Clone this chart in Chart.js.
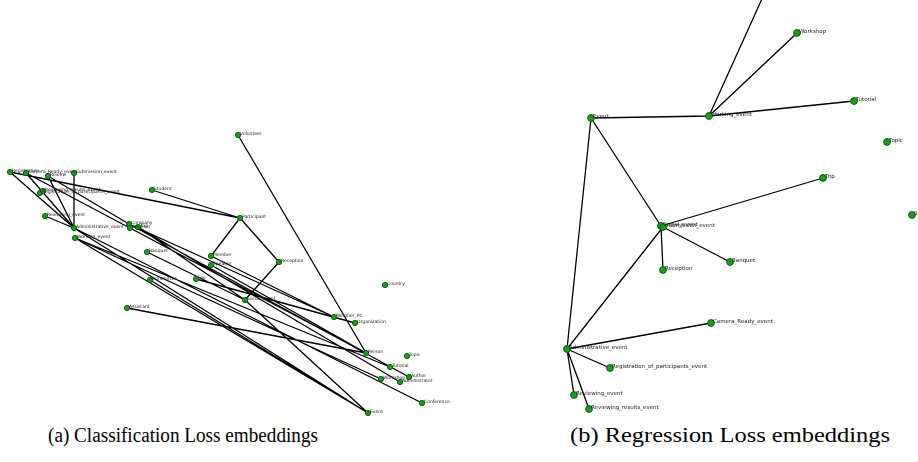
<!DOCTYPE html>
<html>
<head>
<meta charset="utf-8">
<script src="https://cdn.jsdelivr.net/npm/chart.js@4.4.1/dist/chart.umd.min.js"></script>
<style>
  html, body { margin: 0; padding: 0; background: #fff; width: 918px; height: 462px; overflow: hidden; }
  .panel { position: absolute; top: 0; width: 459px; height: 420px; }
  #wrapA { left: 0; }
  #wrapB { left: 459px; }
  .cap { position: absolute; top: 424px; font-family: "Liberation Serif", "DejaVu Serif", serif; font-size: 20px; color: #000; white-space: nowrap; transform-origin: 0 50%; }
</style>
</head>
<body>
<div class="panel" id="wrapA"><canvas id="chartA" width="459" height="420"></canvas></div>
<div class="panel" id="wrapB"><canvas id="chartB" width="459" height="420"></canvas></div>
<div class="cap" id="capA" style="left:48px">(a) Classification Loss embeddings</div>
<div class="cap" id="capB" style="left:570px">(b) Regression Loss embeddings</div>
<script>
// ---------- Panel (a): Classification Loss embeddings ----------
const nodesA = ["Registration","Camera_Ready_event","Review","Submission_event",
  "Registration_of_participants_event","Reviewing_results_event","Reviewing_event",
  "Administrative_event","Working_event","Student","Volunteer","Company","Sponsor","Trip",
  "Participant","Member","Speaker","Banquet","Committee","Fee","Social_event","Assistant",
  "Reception","Country","Member_PC","Organization","Person","Topic","Tutorial","Author",
  "Administrator","Workshop","Conference","Event"];
const xA = [10,26,48,74,40,43,45,74,75,152,238,129,130,138,240,211,211,147,150,196,245,127,279,385,334,355,366,407,390,409,400,381,422,368];
const yA = [172,173,176,173,193,191,216,228,238,190,135,224,228,227,218,256,265,252,280,279,300,308,262,285,317,323,353,356,367,377,382,379,403,413];
const edgesA = [
  ["Registration","Administrative_event"],["Camera_Ready_event","Administrative_event"],
  ["Review","Administrative_event"],["Submission_event","Administrative_event"],
  ["Reviewing_event","Administrative_event"],["Registration","Participant"],
  ["Review","Company"],["Student","Participant"],["Participant","Member"],
  ["Participant","Reception"],["Volunteer","Person"],["Reception","Social_event"],
  ["Working_event","Event"],["Working_event","Workshop"],["Working_event","Tutorial"],
  ["Administrative_event","Conference"],["Administrative_event","Event"],
  ["Social_event","Event"],["Trip","Social_event"],["Banquet","Social_event"],
  ["Member","Member_PC"],["Speaker","Person"],["Assistant","Person"],
  ["Company","Member_PC"],["Fee","Organization"],["Company","Author"],
  ["Trip","Administrator"],["Sponsor","Person"],["Committee","Event"],
  ["Camera_Ready_event","Person"]
];

// ---------- Panel (b): Regression Loss embeddings ----------
const nodesB = ["Event","Working_event","Workshop","Tutorial","Conference","Topic","Student",
  "Trip","Social_event","Submission_event","Reception","Banquet","Camera_Ready_event",
  "Administrative_event","Registration_of_participants_event","Reviewing_event",
  "Reviewing_results_event"];
const xB = [591,709,797,854,775,887,912,823,661,663,663,730,711,567,610,574,589];
const yB = [118,116,33,101,-30,142,215,178,226,227,270,262,323,349,368,395,409];
const edgesB = [
  ["Event","Working_event"],["Working_event","Workshop"],["Working_event","Tutorial"],
  ["Working_event","Conference"],["Event","Social_event"],["Social_event","Trip"],
  ["Social_event","Banquet"],["Social_event","Reception"],["Submission_event","Administrative_event"],
  ["Event","Administrative_event"],["Administrative_event","Camera_Ready_event"],
  ["Administrative_event","Registration_of_participants_event"],
  ["Administrative_event","Reviewing_event"],["Administrative_event","Reviewing_results_event"]
];

function buildEdges(names, xs, ys, edges) {
  const pts = [];
  edges.forEach(([a, b]) => {
    const i = names.indexOf(a), j = names.indexOf(b);
    pts.push({x: xs[i], y: ys[i]}, {x: xs[j], y: ys[j]}, {x: xs[j], y: null});
  });
  return pts;
}

const labelPlugin = {
  id: 'nodeLabels',
  afterDatasetsDraw(chart, args, opts) {
    const ctx = chart.ctx;
    const meta = chart.getDatasetMeta(1);
    const names = chart.data.datasets[1].labelsText;
    ctx.save();
    ctx.font = opts.size + 'px "DejaVu Sans", sans-serif';
    ctx.fillStyle = '#222';
    ctx.textBaseline = 'middle';
    meta.data.forEach((el, k) => {
      ctx.fillText(names[k], el.x + 2, el.y - 1);
    });
    ctx.restore();
  }
};

function makeChart(id, names, xs, ys, edges, xmin, xmax, radius, fontSize) {
  new Chart(document.getElementById(id), {
    type: 'scatter',
    data: {
      datasets: [
        {
          type: 'line',
          data: buildEdges(names, xs, ys, edges),
          borderColor: '#000',
          borderWidth: 1.3,
          pointRadius: 0,
          spanGaps: false,
          fill: false,
          tension: 0,
          order: 2
        },
        {
          type: 'scatter',
          data: names.map((n, k) => ({x: xs[k], y: ys[k]})),
          labelsText: names,
          backgroundColor: '#1f9a1f',
          borderColor: '#0d5f0d',
          borderWidth: 1,
          pointRadius: radius,
          order: 1
        }
      ]
    },
    options: {
      responsive: false,
      animation: false,
      layout: { padding: 0, autoPadding: false },
      plugins: {
        legend: { display: false },
        tooltip: { enabled: false },
        nodeLabels: { size: fontSize }
      },
      scales: {
        x: { type: 'linear', min: xmin, max: xmax, display: false },
        y: { type: 'linear', min: 0, max: 420, reverse: true, display: false }
      }
    },
    plugins: [labelPlugin]
  });
}

makeChart('chartA', nodesA, xA, yA, edgesA, 0, 459, 2.6, 4.5);
makeChart('chartB', nodesB, xB, yB, edgesB, 459, 918, 3.4, 5.5);

// fit captions to their widths in the reference
function fitCaption(id, width) {
  const el = document.getElementById(id);
  const w = el.getBoundingClientRect().width;
  el.style.transform = 'scaleX(' + (width / w) + ')';
}
fitCaption('capA', 270);
fitCaption('capB', 320);
</script>
</body>
</html>
